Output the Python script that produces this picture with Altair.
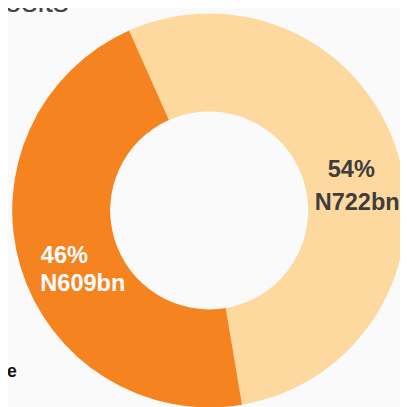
import math
import altair as alt
import pandas as pd

# Data
segments = ["Segment A", "Segment B"]
shares = [54, 46]
pct_labels = ["54%", "46%"]
amount_labels = ["N722bn", "N609bn"]
slice_order = [0, 1]
colors = ["#FDD9A0", "#F58420"]

df = pd.DataFrame({
    "segment": segments,
    "share": shares,
    "pct": pct_labels,
    "amount": amount_labels,
    "rank": slice_order,
})

FONT = "Liberation Sans"
start = math.radians(-24)
cx, cy = 205.3, 202.5

base = alt.Chart(df)

arc = base.mark_arc(outerRadius=201, innerRadius=101, x=cx, y=cy).encode(
    theta=alt.Theta("share:Q", stack=True,
                    scale=alt.Scale(range=[start, start + 2 * math.pi])),
    color=alt.Color("segment:N", scale=alt.Scale(domain=segments, range=colors), legend=None),
    order=alt.Order("rank:Q"),
)

light = base.transform_filter(alt.datum.rank == 0)
dark = base.transform_filter(alt.datum.rank == 1)

t1 = light.mark_text(x=350.3, y=168.7, align="center", baseline="alphabetic",
                     font=FONT, fontSize=24, fontWeight="bold", color="#3D3D3D").encode(text="pct:N")
t2 = light.mark_text(x=356.3, y=202, align="center", baseline="alphabetic",
                     font=FONT, fontSize=24, fontWeight="bold", color="#3D3D3D").encode(text="amount:N")
t3 = dark.mark_text(x=33.5, y=256, align="left", baseline="alphabetic",
                    font=FONT, fontSize=24, fontWeight="bold", color="#FFFFFF").encode(text="pct:N")
t4 = dark.mark_text(x=33, y=284.5, align="left", baseline="alphabetic",
                    font=FONT, fontSize=24, fontWeight="bold", color="#FFFFFF").encode(text="amount:N")

title = alt.Chart(pd.DataFrame({"t": ["Deposits"]})).mark_text(
    align="right", baseline="alphabetic", font=FONT, fontSize=32, color="#444444"
).encode(text="t:N", x=alt.value(62), y=alt.value(0))

note = alt.Chart(pd.DataFrame({"t": ["Online"]})).mark_text(
    align="right", baseline="alphabetic", font=FONT, fontSize=18, fontWeight="bold", color="#111111"
).encode(text="t:N", x=alt.value(9), y=alt.value(372))

chart = alt.layer(arc, t1, t2, t3, t4, title, note).properties(
    width=400, height=399,
    background="#FAFAFA",
    padding=0,
    autosize=alt.AutoSizeParams(type="none"),
).configure_view(stroke=None)

chart.save("out.html", embed_options={"renderer": "svg", "actions": False})
